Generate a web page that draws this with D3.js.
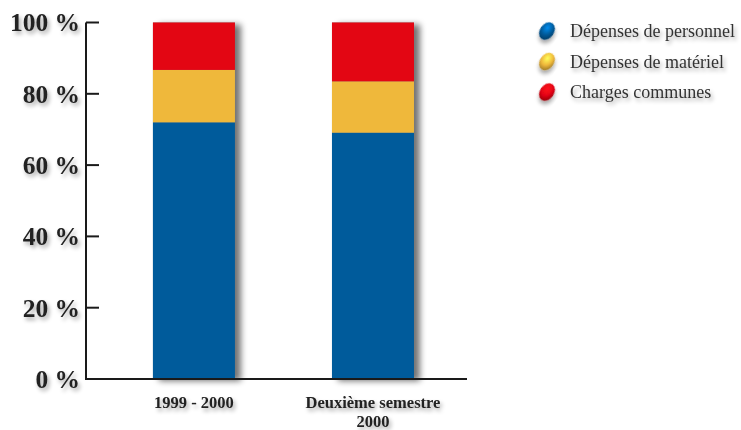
<!DOCTYPE html>
<html>
<head>
<meta charset="utf-8">
<script src="https://cdn.jsdelivr.net/npm/d3@7"></script>
<style>
  html, body { margin: 0; padding: 0; background: #fff; }
  svg { display: block; }
</style>
</head>
<body>
<svg id="chart" width="741" height="430"></svg>
<script>
// Budget breakdown (% of total) per period
const categories = ["1999 - 2000", "Deuxième semestre\n2000"];
const series = ["Dépenses de personnel", "Dépenses de matériel", "Charges communes"];
const personnel = [72.0, 69.1];
const materiel = [14.7, 14.4];
const communes = [13.3, 16.5];
const tickValues = [0, 20, 40, 60, 80, 100];
const colors = ["#005b9b", "#efb83b", "#e30613"];

const svg = d3.select("#chart");
const margin = { left: 86, right: 274, top: 22.5, bottom: 51 };
const W = 741, H = 430;

const y = d3.scaleLinear().domain([0, 100]).range([H - margin.bottom, margin.top]);
const x = d3.scaleBand().domain(categories).range([margin.left, 467])
  .paddingInner(0.542).paddingOuter(0.335).align(0.558);

const defs = svg.append("defs");
const shadow = defs.append("filter").attr("id", "barShadow")
  .attr("x", "-20%").attr("y", "-10%").attr("width", "160%").attr("height", "130%");
shadow.append("feGaussianBlur").attr("in", "SourceAlpha").attr("stdDeviation", 3);
shadow.append("feOffset").attr("dx", 6).attr("dy", 2).attr("result", "off");
shadow.append("feComponentTransfer").append("feFuncA").attr("type", "linear").attr("slope", 0.55);
const m1 = shadow.append("feMerge");
m1.append("feMergeNode");
m1.append("feMergeNode").attr("in", "SourceGraphic");

const textShadow = defs.append("filter").attr("id", "textShadow")
  .attr("x", "-20%").attr("y", "-40%").attr("width", "150%").attr("height", "200%");
textShadow.append("feGaussianBlur").attr("in", "SourceAlpha").attr("stdDeviation", 2);
textShadow.append("feOffset").attr("dx", 2).attr("dy", 3).attr("result", "off");
textShadow.append("feComponentTransfer").append("feFuncA").attr("type", "linear").attr("slope", 0.35);
const m2 = textShadow.append("feMerge");
m2.append("feMergeNode");
m2.append("feMergeNode").attr("in", "SourceGraphic");

// gradients for the legend beads
colors.forEach((c, i) => {
  const g = defs.append("radialGradient").attr("id", "bead" + i)
    .attr("cx", "40%").attr("cy", "35%").attr("r", "70%");
  g.append("stop").attr("offset", "0%").attr("stop-color", d3.color(c).brighter(1.2));
  g.append("stop").attr("offset", "55%").attr("stop-color", c);
  g.append("stop").attr("offset", "100%").attr("stop-color", d3.color(c).darker(1.2));
});

// stacked bars
const rows = categories.map((c, i) => ({ cat: c, s0: personnel[i], s1: materiel[i], s2: communes[i] }));
const stack = d3.stack().keys(["s0", "s1", "s2"])(rows);

const barsG = svg.append("g");
// drop shadow behind each full bar
barsG.selectAll("rect.sh").data(rows).join("rect")
  .attr("x", d => x(d.cat))
  .attr("y", d => y(d.s0 + d.s1 + d.s2))
  .attr("width", x.bandwidth())
  .attr("height", d => y(0) - y(d.s0 + d.s1 + d.s2))
  .attr("fill", "#888")
  .attr("filter", "url(#barShadow)");

barsG.selectAll("g.layer").data(stack).join("g")
  .attr("fill", (d, i) => colors[i])
  .selectAll("rect").data(d => d).join("rect")
  .attr("x", d => x(d.data.cat))
  .attr("y", d => y(d[1]))
  .attr("width", x.bandwidth())
  .attr("height", d => y(d[0]) - y(d[1]));

// axes
const axisG = svg.append("g").attr("stroke", "#1a1a1a").attr("stroke-width", 2);
axisG.append("line").attr("x1", margin.left).attr("x2", margin.left)
  .attr("y1", y(100)).attr("y2", y(0));
axisG.append("line").attr("x1", margin.left - 1).attr("x2", 467)
  .attr("y1", y(0)).attr("y2", y(0));
axisG.selectAll("line.tick").data(tickValues.filter(v => v > 0)).join("line")
  .attr("x1", margin.left).attr("x2", margin.left + 13)
  .attr("y1", d => y(d)).attr("y2", d => y(d));

const serif = "'Liberation Serif', 'DejaVu Serif', serif";

svg.append("g").selectAll("text").data(tickValues).join("text")
  .attr("x", 80)
  .attr("y", d => y(d))
  .attr("dy", "0.35em")
  .attr("text-anchor", "end")
  .attr("font-family", serif)
  .attr("font-weight", "bold")
  .attr("font-size", 25.5)
  .attr("fill", "#222")
  .attr("filter", "url(#textShadow)")
  .text(d => d + " %");

// category labels
svg.append("g").selectAll("text").data(categories).join("text")
  .attr("x", d => x(d) + x.bandwidth() / 2)
  .attr("y", 408)
  .attr("text-anchor", "middle")
  .attr("font-family", serif)
  .attr("font-weight", "bold")
  .attr("font-size", 16.5)
  .attr("fill", "#222")
  .attr("filter", "url(#textShadow)")
  .each(function(d) {
    d.split("\n").forEach((line, i) => {
      d3.select(this).append("tspan")
        .attr("x", x(d) + x.bandwidth() / 2)
        .attr("dy", i === 0 ? 0 : 19)
        .text(line);
    });
  });

// legend
const leg = svg.append("g").selectAll("g").data(series).join("g")
  .attr("transform", (d, i) => `translate(547, ${31 + i * 30.5})`);
leg.append("ellipse")
  .attr("rx", 7).attr("ry", 9.5)
  .attr("transform", "rotate(35)")
  .attr("fill", (d, i) => `url(#bead${i})`)
  .attr("filter", "url(#textShadow)");
leg.append("text")
  .attr("x", 23)
  .attr("dy", "0.35em")
  .attr("font-family", serif)
  .attr("font-size", 18)
  .attr("fill", "#333")
  .attr("filter", "url(#textShadow)")
  .text(d => d);
</script>
</body>
</html>
